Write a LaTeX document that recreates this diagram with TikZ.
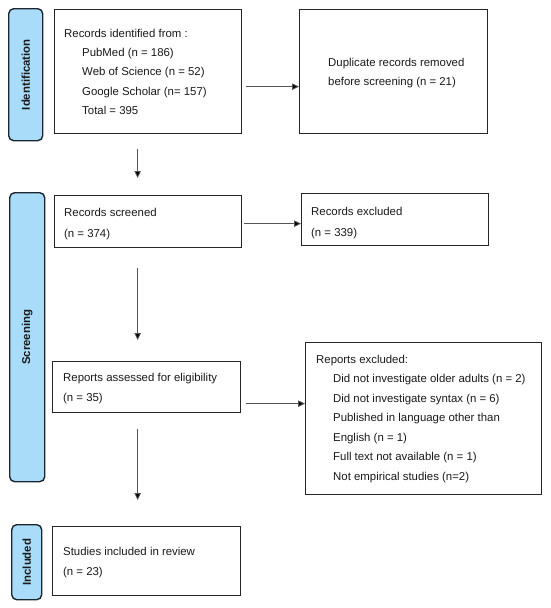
\documentclass[tikz,border=0pt]{standalone}
\usepackage{fontspec}
\setmainfont{Liberation Sans}
\usetikzlibrary{arrows.meta}
\definecolor{phasefill}{HTML}{A8DCF8}
\definecolor{phaseline}{HTML}{1C2630}
\definecolor{txt}{HTML}{1A1A1A}
\definecolor{arrline}{HTML}{555555}
\tikzset{
  x=1pt, y=-1pt,
  box/.style={draw=black!85, line width=1.3pt, anchor=north west, inner sep=0pt, fill=white},
  phase/.style={draw=phaseline, line width=1.4pt, fill=phasefill, rounded corners=5pt, anchor=north west, inner sep=0pt},
  phasetext/.style={font=\fontsize{11.4}{13}\selectfont\bfseries, text=txt, rotate=90, inner sep=0pt},
  btext/.style={anchor=north west, align=left, inner sep=0pt, text=txt},
  arr/.style={draw=arrline, line width=0.8pt, -{Triangle[length=7pt,width=6.5pt,fill=black]}},
}
\begin{document}
\begin{tikzpicture}
\useasboundingbox (0,0) rectangle (550,608);
% phase labels
\node[phase, minimum width=34pt, minimum height=132pt] (pid) at (8,8) {};
\node[phasetext] (pidt) at (pid.center) {Identification};
\node[phase, minimum width=35pt, minimum height=289pt] (pscr) at (9,192) {};
\node[phasetext] (pscrt) at (pscr.center) {Screening};
\node[phase, minimum width=30pt, minimum height=75pt] (pinc) at (11,524) {};
\node[phasetext] (pinct) at (pinc.center) {Included};
% boxes
\node[box, minimum width=187pt, minimum height=124pt] (id) at (54,9) {};
\node[box, minimum width=188pt, minimum height=124pt] (dup) at (299,9) {};
\node[box, minimum width=187pt, minimum height=52pt] (scr) at (54,195) {};
\node[box, minimum width=187pt, minimum height=52pt] (exc) at (301,193) {};
\node[box, minimum width=188pt, minimum height=51pt] (ass) at (52,361) {};
\node[box, minimum width=236pt, minimum height=152pt] (rexc) at (305,342) {};
\node[box, minimum width=188pt, minimum height=69pt] (inc) at (52,526) {};
% texts
\node[btext, font=\fontsize{11.4}{19.2}\selectfont] (idt) at (64,29)
  {Records identified from :\\
   \hspace*{18pt}PubMed (n = 186)\\
   \hspace*{18pt}Web of Science (n = 52)\\
   \hspace*{18pt}Google Scholar (n= 157)\\
   \hspace*{18pt}Total = 395};
\node[btext, font=\fontsize{11.4}{19.2}\selectfont] (dupt) at (328,58)
  {Duplicate records removed\\ before screening (n = 21)};
\node[btext, font=\fontsize{11.4}{21}\selectfont] (scrt) at (64,208)
  {Records screened\\ (n = 374)};
\node[btext, font=\fontsize{11.4}{21}\selectfont] (exct) at (311,207)
  {Records excluded\\ (n = 339)};
\node[btext, font=\fontsize{11.4}{20}\selectfont] (asst) at (63,373)
  {Reports assessed for eligibility\\ (n = 35)};
\node[btext, font=\fontsize{11.4}{19.5}\selectfont] (rexct) at (316,355)
  {Reports excluded:\\
   \hspace*{17pt}Did not investigate older adults (n = 2)\\
   \hspace*{17pt}Did not investigate syntax (n = 6)\\
   \hspace*{17pt}Published in language other than\\
   \hspace*{17pt}English (n = 1)\\
   \hspace*{17pt}Full text not available (n = 1)\\
   \hspace*{17pt}Not empirical studies (n=2)};
\node[btext, font=\fontsize{11.4}{20}\selectfont] (inct) at (63,547)
  {Studies included in review\\ (n = 23)};
% connectors
\draw[arr] ([xshift=4pt,yshift=-15pt]id.east) -- ([yshift=-15pt]id.east -| dup.west);
\draw[arr] ([xshift=-10.5pt,yshift=-15pt]id.south) -- ([xshift=-10.5pt,yshift=17pt]id.south |- scr.north);
\draw[arr] ([xshift=2pt,yshift=-2pt]scr.east) -- ([yshift=-2pt]scr.east -| exc.west);
\draw[arr] ([xshift=-10.5pt,yshift=-20pt]scr.south) -- ([xshift=-10.5pt,yshift=21pt]scr.south |- ass.north);
\draw[arr] ([xshift=5pt,yshift=-16.5pt]ass.east) -- ([yshift=-16.5pt]ass.east -| rexc.west);
\draw[arr] ([xshift=-9pt,yshift=-16pt]ass.south) -- ([xshift=-9pt,yshift=26pt]ass.south |- inc.north);
\end{tikzpicture}
\end{document}
